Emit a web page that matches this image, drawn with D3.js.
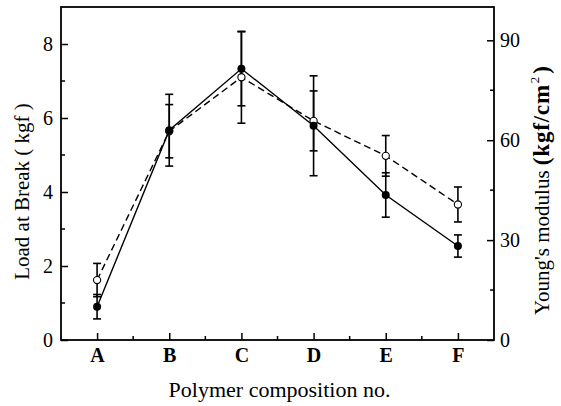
<!DOCTYPE html>
<html lang="en">
<head>
  <meta charset="UTF-8" />
  <title>Load at break and Young's modulus</title>
  <style>
    body { margin: 0; background: #fff; }
    svg { display: block; font-family: "Liberation Serif", "Times New Roman", serif; }
    .axis path, .axis line { stroke: #000; }
    .axis text { fill: #000; }
  </style>
</head>
<body>
  <div id="chart"></div>
  <script src="https://cdn.jsdelivr.net/npm/d3@7"></script>
  <script>
    // values
    const categories = ["A", "B", "C", "D", "E", "F"];
    const loadAtBreak = [0.9, 5.67, 7.33, 5.79, 3.92, 2.54];
    const loadErr = [0.33, 0.97, 1.0, 1.35, 0.6, 0.3];
    const youngsModulus = [18, 62.7, 78.9, 65.8, 55.3, 40.7];
    const modulusErr = [5, 8, 13.8, 9, 6.1, 5.25];
    const leftTicks = [0, 2, 4, 6, 8];
    const leftMinor = [1, 3, 5, 7];
    const rightTicks = [0, 30, 60, 90];
    const rightMinor = [15, 45, 75];

    const W = 561, H = 406;
    const m = { left: 61, right: 494, top: 7, bottom: 340 };

    const svg = d3.select("#chart").append("svg")
      .attr("width", W)
      .attr("height", H);

    const x = d3.scalePoint().domain(categories).range([m.left, m.right]).padding(0.5);
    const yL = d3.scaleLinear().domain([0, 9]).range([m.bottom, m.top]);
    const yR = d3.scaleLinear().domain([0, 100]).range([m.bottom, m.top]);

    // minor x ticks halfway between categories
    const step = x.step();
    const xMinor = categories.slice(0, -1).map(c => x(c) + step / 2);

    // frame
    svg.append("rect")
      .attr("x", m.left).attr("y", m.top)
      .attr("width", m.right - m.left).attr("height", m.bottom - m.top)
      .attr("fill", "none").attr("stroke", "#000").attr("stroke-width", 1.8);

    function styleAxis(g, bold) {
      g.attr("font-family", null).attr("font-size", null);
      g.select(".domain").remove();
      g.selectAll("line").attr("stroke-width", 1.5);
      g.selectAll("text").style("font-size", "20px").style("font-weight", bold ? "bold" : null);
    }

    // left axis
    const gL = svg.append("g").attr("class", "axis")
      .attr("transform", `translate(${m.left},0)`)
      .call(d3.axisLeft(yL).tickValues(leftTicks).tickSize(-7).tickPadding(8).tickFormat(d3.format("d")));
    styleAxis(gL, false);
    svg.append("g").selectAll("line").data(leftMinor).join("line")
      .attr("x1", m.left).attr("x2", m.left + 4)
      .attr("y1", d => yL(d)).attr("y2", d => yL(d))
      .attr("stroke", "#000").attr("stroke-width", 1.5);

    // right axis
    const gR = svg.append("g").attr("class", "axis")
      .attr("transform", `translate(${m.right},0)`)
      .call(d3.axisRight(yR).tickValues(rightTicks).tickSize(-7).tickPadding(6).tickFormat(d3.format("d")));
    styleAxis(gR, false);
    svg.append("g").selectAll("line").data(rightMinor).join("line")
      .attr("x1", m.right).attr("x2", m.right - 4)
      .attr("y1", d => yR(d)).attr("y2", d => yR(d))
      .attr("stroke", "#000").attr("stroke-width", 1.5);

    // bottom axis
    const gB = svg.append("g").attr("class", "axis")
      .attr("transform", `translate(0,${m.bottom})`)
      .call(d3.axisBottom(x).tickSize(-7).tickPadding(8));
    styleAxis(gB, true);
    svg.append("g").selectAll("line").data(xMinor).join("line")
      .attr("x1", d => d).attr("x2", d => d)
      .attr("y1", m.bottom).attr("y2", m.bottom - 4)
      .attr("stroke", "#000").attr("stroke-width", 1.5);

    // axis titles
    svg.append("text")
      .attr("x", (m.left + m.right) / 2 + 2).attr("y", 397)
      .attr("text-anchor", "middle").style("font-size", "22px")
      .text("Polymer composition no.");

    svg.append("text")
      .attr("transform", `translate(29,${(m.top + m.bottom) / 2 + 18}) rotate(-90)`)
      .attr("text-anchor", "middle").style("font-size", "21px")
      .text("Load at Break ( kgf )");

    const rt = svg.append("text")
      .attr("transform", "translate(549,315) rotate(-90)")
      .attr("text-anchor", "start").style("font-size", "21px");
    rt.append("tspan").text("Young's modulus ");
    rt.append("tspan").style("font-weight", "bold").style("font-size", "23px")
      .style("letter-spacing", "0.8px").text("(kgf/cm");
    rt.append("tspan").attr("dy", -10).attr("dx", 1).style("font-size", "13px").text("2");
    rt.append("tspan").attr("dy", 10).attr("dx", 3).style("font-weight", "bold").style("font-size", "23px").text(")");

    const loadPts = categories.map((c, i) => ({ c, v: loadAtBreak[i], e: loadErr[i] }));
    const modPts = categories.map((c, i) => ({ c, v: youngsModulus[i], e: modulusErr[i] }));

    // lines
    svg.append("path").datum(modPts)
      .attr("fill", "none").attr("stroke", "#000").attr("stroke-width", 1.4)
      .attr("stroke-dasharray", "7,4")
      .attr("d", d3.line().x(d => x(d.c)).y(d => yR(d.v)));
    svg.append("path").datum(loadPts)
      .attr("fill", "none").attr("stroke", "#000").attr("stroke-width", 1.4)
      .attr("d", d3.line().x(d => x(d.c)).y(d => yL(d.v)));

    // error bars
    function errorBars(pts, y) {
      const g = svg.append("g").attr("stroke", "#000").attr("stroke-width", 1.6);
      g.selectAll(".v").data(pts).join("line")
        .attr("x1", d => x(d.c)).attr("x2", d => x(d.c))
        .attr("y1", d => y(d.v - d.e)).attr("y2", d => y(d.v + d.e));
      g.selectAll(".t").data(pts).join("line")
        .attr("x1", d => x(d.c) - 4).attr("x2", d => x(d.c) + 4)
        .attr("y1", d => y(d.v + d.e)).attr("y2", d => y(d.v + d.e));
      g.selectAll(".b").data(pts).join("line")
        .attr("x1", d => x(d.c) - 4).attr("x2", d => x(d.c) + 4)
        .attr("y1", d => y(d.v - d.e)).attr("y2", d => y(d.v - d.e));
    }
    errorBars(modPts, yR);
    errorBars(loadPts, yL);

    // markers
    svg.append("g").selectAll("circle").data(modPts).join("circle")
      .attr("cx", d => x(d.c)).attr("cy", d => yR(d.v)).attr("r", 3.6)
      .attr("fill", "#fff").attr("stroke", "#000").attr("stroke-width", 1.1);
    svg.append("g").selectAll("circle").data(loadPts).join("circle")
      .attr("cx", d => x(d.c)).attr("cy", d => yL(d.v)).attr("r", 4)
      .attr("fill", "#000");
  </script>
</body>
</html>
